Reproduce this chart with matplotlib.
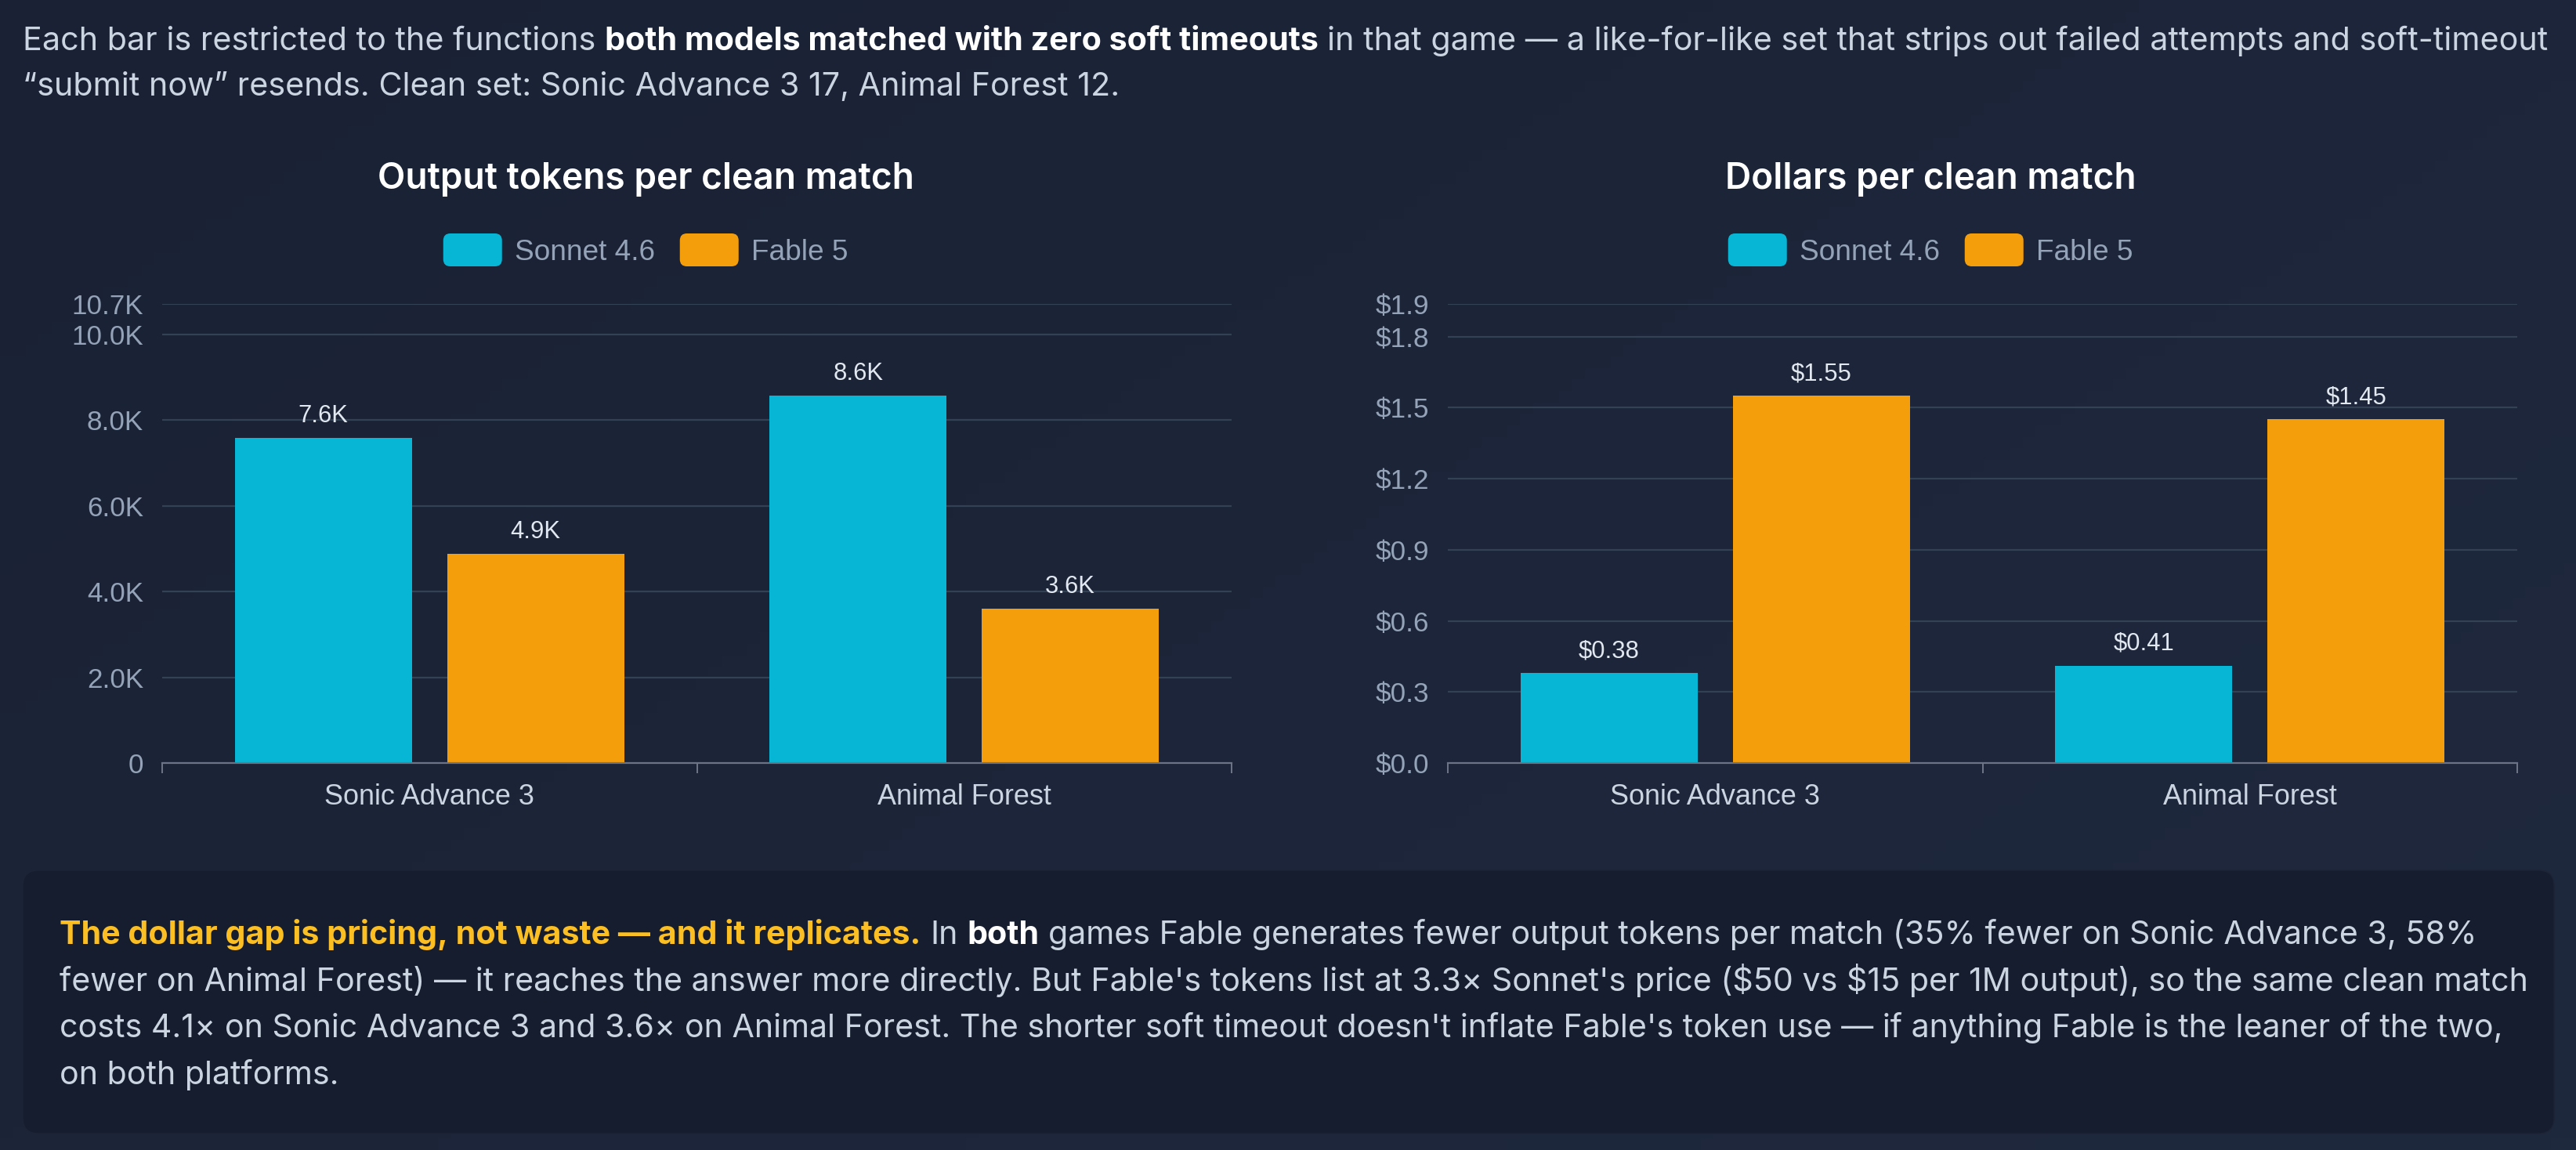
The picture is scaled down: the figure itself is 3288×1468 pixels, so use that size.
import matplotlib
matplotlib.use("Agg")
import matplotlib.pyplot as plt
import numpy as np
from matplotlib.patches import FancyBboxPatch
from matplotlib.colors import LinearSegmentedColormap

# ---------------- data ----------------
games = ["Sonic Advance 3", "Animal Forest"]
models = ["Sonnet 4.6", "Fable 5"]
tokens_sonnet = [7580, 8570]
tokens_fable = [4890, 3600]
dollars_sonnet = [0.38, 0.41]
dollars_fable = [1.55, 1.45]
token_ticks = [0, 2000, 4000, 6000, 8000, 10000]
dollar_ticks = [0.0, 0.3, 0.6, 0.9, 1.2, 1.5, 1.8]
chart_titles = ["Output tokens per clean match", "Dollars per clean match"]

intro_lines = [
    [("Each bar is restricted to the functions ", "normal", "body"),
     ("both models matched with zero soft timeouts", "bold", "strong"),
     (" in that game \u2014 a like-for-like set that strips out failed attempts and soft-timeout", "normal", "body")],
    [("\u201csubmit now\u201d resends. Clean set: Sonic Advance 3 17, Animal Forest 12.", "normal", "body")],
]
note_lines = [
    [("The dollar gap is pricing, not waste \u2014 and it replicates.", "bold", "accent"),
     (" In ", "normal", "body"), ("both", "bold", "strong"),
     (" games Fable generates fewer output tokens per match (35% fewer on Sonic Advance 3, 58%", "normal", "body")],
    [("fewer on Animal Forest) \u2014 it reaches the answer more directly. But Fable's tokens list at 3.3\u00d7 Sonnet's price ($50 vs $15 per 1M output), so the same clean match", "normal", "body")],
    [("costs 4.1\u00d7 on Sonic Advance 3 and 3.6\u00d7 on Animal Forest. The shorter soft timeout doesn't inflate Fable's token use \u2014 if anything Fable is the leaner of the two,", "normal", "body")],
    [("on both platforms.", "normal", "body")],
]

# ---------------- style ----------------
W, H, DPI = 3288, 1468, 100
C_SONNET = "#06b6d4"
C_FABLE = "#f59e0b"
BG0, BG1 = "#1a2134", "#1f293e"
BOX = "#161d2f"
GRID = "#334155"
AXIS = "#6b7385"
TICK = "#94a3b8"
CAT = "#cbd5e1"
VAL = "#e2e8f0"
TCOL = {"body": "#cbd5e1", "strong": "#ffffff", "accent": "#fbbf24"}
CHART_FONT = ["Liberation Sans", "DejaVu Sans"]
TEXT_FONT = ["Inter", "DejaVu Sans"]

def PT(px):
    return px * 72.0 / DPI

fig = plt.figure(figsize=(W / DPI, H / DPI), dpi=DPI)

# background axes in pixel coordinates (y downward)
bg = fig.add_axes([0, 0, 1, 1], zorder=-10)
gx, gy = np.meshgrid(np.linspace(0, 1, 200), np.linspace(0, 1, 100))
cmap = LinearSegmentedColormap.from_list("bg", [BG0, BG1])
bg.imshow(0.6 * gx + 0.4 * gy, cmap=cmap, aspect="auto", extent=[0, W, H, 0], zorder=0)
bg.set_xlim(0, W); bg.set_ylim(H, 0)
bg.axis("off")
bg.add_patch(FancyBboxPatch((29, 1111), 3260 - 29, 1447 - 1111,
                            boxstyle="round,pad=0,rounding_size=20",
                            facecolor=BOX, edgecolor="#1c2436", linewidth=1.0, zorder=1))

fig.canvas.draw()
renderer = fig.canvas.get_renderer()

def tw(s, size, weight, family):
    t = fig.text(0, 0, s, fontsize=size, fontweight=weight, family=family, parse_math=False)
    w = t.get_window_extent(renderer).width
    t.remove()
    return w

def piece_parts(s):
    lead = len(s) - len(s.lstrip(" "))
    trail = len(s) - len(s.rstrip(" "))
    return lead, s.strip(" "), trail

def line_width(pieces, size, family):
    total = 0.0
    for s, weight, _ in pieces:
        sw = tw("a a", size, weight, family) - tw("aa", size, weight, family)
        lead, core, trail = piece_parts(s)
        total += (lead + trail) * sw + (tw(core, size, weight, family) if core else 0)
    return total

def draw_line(x, y, pieces, size, family):
    for s, weight, ckey in pieces:
        sw = tw("a a", size, weight, family) - tw("aa", size, weight, family)
        lead, core, trail = piece_parts(s)
        x += lead * sw
        if core:
            fig.text(x / W, 1 - y / H, core, fontsize=size, fontweight=weight, family=family,
                     color=TCOL[ckey], ha="left", va="baseline", parse_math=False)
            x += tw(core, size, weight, family)
        x += trail * sw

def fit_size(pieces, target, family):
    base = 20.0
    return base * target / line_width(pieces, base, family)

# intro paragraph
s_intro = fit_size(intro_lines[0], 3256 - 29, TEXT_FONT)
for i, ln in enumerate(intro_lines):
    draw_line(29, 64 + 58 * i, ln, s_intro, TEXT_FONT)

# note paragraph
s_note = fit_size(note_lines[0], 3162 - 76, TEXT_FONT)
for i, ln in enumerate(note_lines):
    draw_line(76, 1205 + 59.7 * i, ln, s_note, TEXT_FONT)

# ---------------- charts ----------------
def tok_fmt(v):
    return "0" if v == 0 else f"{v / 1000:.1f}K"

def usd_fmt(v):
    return f"${v:.1f}"

def val_tok(v):
    return f"{v / 1000:.1f}K"

def val_usd(v):
    return f"${v:.2f}"

specs = [
    (207, 824, chart_titles[0], tokens_sonnet, tokens_fable, token_ticks, tok_fmt, val_tok),
    (1848, 2464, chart_titles[1], dollars_sonnet, dollars_fable, dollar_ticks, usd_fmt, val_usd),
]

bw, off = 0.331, 0.1985
for left, center, title, s_vals, f_vals, ticks, fmt, vfmt in specs:
    ax = fig.add_axes([left / W, 1 - 974 / H, 1365 / W, 586 / H])
    ax.set_facecolor("none")
    x = np.arange(len(games))
    b1 = ax.bar(x - off, s_vals, bw, color=C_SONNET, zorder=3)
    b2 = ax.bar(x + off, f_vals, bw, color=C_FABLE, zorder=3)
    ymax = max(max(s_vals), max(f_vals)) * 1.25
    ax.set_ylim(0, ymax)
    ax.set_xlim(-0.5, len(games) - 0.5)
    yt = list(ticks) + [ymax]
    ax.set_yticks(yt)
    ax.set_yticklabels([fmt(v) for v in yt], family=CHART_FONT, fontsize=PT(35), color=TICK)
    ax.tick_params(axis="y", length=0, pad=PT(24))
    ax.grid(axis="y", color=GRID, linewidth=PT(2.2), zorder=0)
    ax.set_axisbelow(True)
    ax.set_xticks(x)
    ax.set_xticklabels(games, family=CHART_FONT, fontsize=PT(36), color=CAT)
    ax.tick_params(axis="x", which="major", length=0, pad=PT(26))
    ax.set_xticks(np.arange(len(games) + 1) - 0.5, minor=True)
    ax.tick_params(axis="x", which="minor", length=PT(13), width=PT(2), color=AXIS, direction="out")
    for sp in ["left", "right", "top"]:
        ax.spines[sp].set_visible(False)
    ax.spines["bottom"].set_color(AXIS)
    ax.spines["bottom"].set_linewidth(PT(2.2))
    ax.spines["bottom"].set_zorder(4)
    for bars, vals in ((b1, s_vals), (b2, f_vals)):
        for rect, v in zip(bars, vals):
            ax.annotate(vfmt(v), (rect.get_x() + rect.get_width() / 2, v),
                        xytext=(0, PT(20)), textcoords="offset points",
                        ha="center", va="baseline", fontsize=PT(31), color=VAL,
                        family=CHART_FONT, annotation_clip=False)
    # title
    fig.text(center / W, 1 - 241 / H, title, ha="center", va="baseline",
             fontsize=PT(46), color="#ffffff", family=TEXT_FONT, fontweight="semibold")
    # legend (manual, centered)
    lsize = PT(37)
    sw_w, sw_h, gap1, gap2 = 75, 42, 16, 32
    widths = [tw(m, lsize, "normal", CHART_FONT) for m in models]
    total = sum(sw_w + gap1 + w for w in widths) + gap2 * (len(models) - 1)
    lx = center - total / 2
    for m, c, w in zip(models, [C_SONNET, C_FABLE], widths):
        bg.add_patch(FancyBboxPatch((lx, 298), sw_w, sw_h,
                                    boxstyle="round,pad=0,rounding_size=9",
                                    facecolor=c, edgecolor="none", zorder=2))
        fig.text((lx + sw_w + gap1) / W, 1 - 332 / H, m, ha="left", va="baseline",
                 fontsize=lsize, color=TICK, family=CHART_FONT)
        lx += sw_w + gap1 + w + gap2

fig.savefig("out.png", dpi=DPI, facecolor=BG0)
